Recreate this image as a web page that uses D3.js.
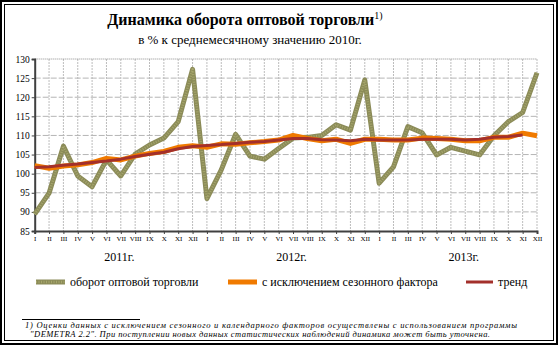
<!DOCTYPE html>
<html>
<head>
<meta charset="utf-8">
<script src="https://cdn.jsdelivr.net/npm/d3@7"></script>
<style>
  html, body { margin: 0; padding: 0; background: #fff; }
  svg { display: block; }
  text { font-family: "Liberation Serif", "Times New Roman", serif; fill: #000; }
</style>
</head>
<body>
<svg id="chart" width="558" height="345"></svg>
<script>
// Monthly labels (Roman numerals) and years
const months = ["I","II","III","IV","V","VI","VII","VIII","IX","X","XI","XII"];
const years = ["2011г.", "2012г.", "2013г."];
const yTicks = [85, 90, 95, 100, 105, 110, 115, 120, 125, 130];

// Wholesale turnover, % of 2010 monthly average
const turnover = [
  89.4, 94.9, 107.2, 99.4, 96.6, 103.6, 99.4, 105.1, 107.5, 109.3, 113.6, 127.3,
  93.5, 101.0, 110.3, 104.6, 103.8, 106.6, 109.3, 109.5, 110.0, 112.8, 111.4, 124.5,
  97.5, 101.8, 112.3, 110.7, 104.9, 106.9, 105.9, 104.9, 109.9, 113.6, 116.0, 126.4
];
// Seasonally adjusted
const seasAdj = [
  102.1, 101.4, 102.0, 102.3, 102.9, 104.0, 103.6, 104.6, 105.3, 105.8, 106.9, 107.3,
  106.9, 107.8, 107.7, 108.1, 108.4, 108.8, 110.0, 109.2, 108.6, 109.0, 107.9, 109.0,
  109.0, 108.8, 108.8, 109.3, 109.2, 109.0, 108.6, 108.6, 109.5, 109.5, 110.6, 109.9
];
// Trend (ends one month earlier)
const trend = [
  101.6, 101.8, 102.2, 102.5, 102.9, 103.3, 103.8, 104.5, 105.1, 105.6, 106.5, 107.1,
  107.4, 107.6, 107.9, 108.2, 108.4, 108.8, 109.2, 109.2, 108.9, 108.8, 108.6, 109.0,
  108.8, 108.8, 108.8, 109.0, 109.0, 109.0, 108.8, 109.0, 109.5, 109.7, 110.1
];

const legendLabels = ["оборот оптовой торговли", "с исключением  сезонного фактора", "тренд"];
const title = "Динамика оборота оптовой торговли";
const subtitle = "в % к среднемесячному значению 2010г.";
const footnote1 = "1) Оценки  данных с исключением  сезонного  и календарного  факторов  осуществлены  с  использованием  программы";
const footnote2 = "\"DEMETRA 2.2\". При поступлении новых данных статистических наблюдений динамика может быть уточнена.";

const colors = { turnover: "#8b8b58", seas: "#f07a00", trend: "#a3302b" };

const svg = d3.select("#chart");
const W = 558, H = 345;

// Frame: double border
svg.append("rect").attr("x", 1).attr("y", 1).attr("width", W - 2).attr("height", H - 2)
  .attr("fill", "none").attr("stroke", "#000").attr("stroke-width", 2);
svg.append("rect").attr("x", 4.5).attr("y", 4.5).attr("width", W - 9).attr("height", H - 9)
  .attr("fill", "none").attr("stroke", "#000").attr("stroke-width", 1);

// Titles
const t = svg.append("text").attr("x", 245).attr("y", 25).attr("text-anchor", "middle")
  .style("font-size", "16px").style("font-weight", "bold");
t.append("tspan").text(title);
t.append("tspan").attr("dy", -6).style("font-size", "10px").style("font-weight", "normal").text("1)");
svg.append("text").attr("x", 250).attr("y", 44).attr("text-anchor", "middle")
  .style("font-size", "13px").text(subtitle);

// Scales
const n = months.length * years.length;
const x = d3.scaleLinear().domain([0, n - 1]).range([34.7, 537]);
const y = d3.scaleLinear().domain([85, 130]).range([231, 59]);

// Gridlines
const grid = svg.append("g");
grid.selectAll("line.v").data(d3.range(1, n)).join("line")
  .attr("x1", d => x(d)).attr("x2", d => x(d)).attr("y1", y(130)).attr("y2", y(85))
  .attr("stroke", "#bdbdbd").attr("stroke-width", 1).attr("stroke-dasharray", "2,1");
grid.selectAll("line.h").data(yTicks.filter(v => v > 85)).join("line")
  .attr("x1", x(0)).attr("x2", x(n - 1)).attr("y1", d => y(d)).attr("y2", d => y(d))
  .attr("stroke", d => d === 130 ? "#8c8c8c" : "#b5b5b5").attr("stroke-width", 1)
  .attr("stroke-dasharray", d => d === 130 ? "1,1" : "6,2");

// Axes
const yAxis = d3.axisLeft(y).tickValues(yTicks).tickSize(3).tickPadding(2);
const gy = svg.append("g").attr("transform", `translate(${x(0)},0)`).call(yAxis);
gy.select(".domain").attr("stroke", "#404040").attr("stroke-width", 2);
gy.selectAll(".tick line").attr("stroke", "#404040");
gy.selectAll("text").style("font-size", "9.5px").style("font-family", "Liberation Serif");

const monthLabels = d3.range(n).map(i => months[i % 12]);
const xAxis = d3.axisBottom(x).tickValues(d3.range(n)).tickFormat(i => monthLabels[i]).tickSize(3).tickPadding(2);
const gx = svg.append("g").attr("transform", `translate(0,${y(85)})`).call(xAxis);
gx.select(".domain").attr("stroke", "#404040").attr("stroke-width", 2);
gx.selectAll(".tick line").attr("stroke", "#404040");
gx.selectAll("text").style("font-size", "7px").style("font-family", "Liberation Serif");

// Year labels
svg.selectAll("text.year").data(years).join("text").attr("class", "year")
  .attr("x", (d, i) => x(i * 12 + 5.9)).attr("y", 261).attr("text-anchor", "middle")
  .style("font-size", "12px").text(d => d);

// Series
const line = d3.line().x((d, i) => x(i)).y(d => y(d));
const plot = svg.append("g").attr("fill", "none").attr("stroke-linejoin", "round");
plot.append("path").datum(turnover).attr("d", line)
  .attr("stroke", colors.turnover).attr("stroke-width", 5);
plot.append("path").datum(turnover).attr("d", line)
  .attr("stroke", "#a6a66c").attr("stroke-width", 2.5).attr("stroke-dasharray", "1,1.5");
plot.append("path").datum(seasAdj).attr("d", line)
  .attr("stroke", colors.seas).attr("stroke-width", 5);
plot.append("path").datum(trend).attr("d", line)
  .attr("stroke", colors.trend).attr("stroke-width", 3);

// Legend
const legendItems = [
  { label: legendLabels[0], x1: 36, x2: 65, color: colors.turnover, w: 5, dotted: true },
  { label: legendLabels[1], x1: 228, x2: 257, color: colors.seas, w: 5, dotted: false },
  { label: legendLabels[2], x1: 466, x2: 493, color: colors.trend, w: 3, dotted: false }
];
const ly = 282;
const lg = svg.append("g");
legendItems.forEach(it => {
  lg.append("line").attr("x1", it.x1).attr("x2", it.x2).attr("y1", ly).attr("y2", ly)
    .attr("stroke", it.color).attr("stroke-width", it.w);
  if (it.dotted) {
    lg.append("line").attr("x1", it.x1).attr("x2", it.x2).attr("y1", ly).attr("y2", ly)
      .attr("stroke", "#a6a66c").attr("stroke-width", 2.5).attr("stroke-dasharray", "1,1.5");
  }
  lg.append("text").attr("x", it.x2 + 5).attr("y", ly + 4).style("font-size", "12px").text(it.label);
});

// Footnote
svg.append("line").attr("x1", 22).attr("x2", 140).attr("y1", 319.5).attr("y2", 319.5)
  .attr("stroke", "#000").attr("stroke-width", 1);
svg.append("text").attr("x", 25).attr("y", 328).style("font-size", "8.5px").style("font-style", "italic")
  .attr("textLength", 492).attr("lengthAdjust", "spacing").text(footnote1);
svg.append("text").attr("x", 30).attr("y", 337).style("font-size", "8.5px").style("font-style", "italic")
  .attr("textLength", 460).attr("lengthAdjust", "spacing").text(footnote2);
</script>
</body>
</html>
